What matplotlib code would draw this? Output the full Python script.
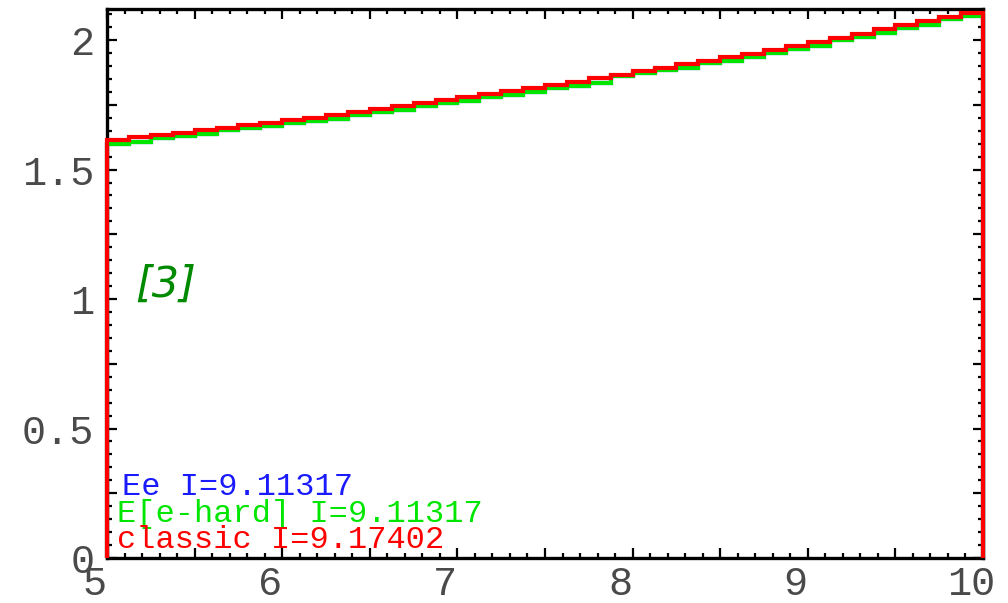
import numpy as np
import matplotlib
matplotlib.use("Agg")
import matplotlib.pyplot as plt
from matplotlib.ticker import MultipleLocator, FuncFormatter
from matplotlib.transforms import ScaledTranslation

# Histogram binning: 40 bins of width 0.125 between 5 and 10
bin_edges = np.linspace(5.0, 10.0, 41)

classic_values = [
    1.614, 1.624, 1.633, 1.643, 1.652, 1.662, 1.672, 1.681, 1.691, 1.700,
    1.710, 1.722, 1.733, 1.745, 1.756, 1.768, 1.780, 1.791, 1.803, 1.814,
    1.826, 1.839, 1.853, 1.866, 1.880, 1.893, 1.906, 1.920, 1.933, 1.947,
    1.961, 1.977, 1.993, 2.009, 2.025, 2.042, 2.058, 2.074, 2.090, 2.106,
]
e_hard_values = [
    1.598, 1.606, 1.623, 1.631, 1.638, 1.652, 1.660, 1.667, 1.681, 1.688,
    1.696, 1.712, 1.721, 1.731, 1.746, 1.756, 1.766, 1.779, 1.789, 1.798,
    1.814, 1.823, 1.833, 1.862, 1.872, 1.883, 1.894, 1.910, 1.921, 1.933,
    1.951, 1.965, 1.979, 1.999, 2.013, 2.028, 2.046, 2.060, 2.080, 2.094,
]
ee_values = [
    1.598, 1.606, 1.623, 1.631, 1.638, 1.652, 1.660, 1.667, 1.681, 1.688,
    1.696, 1.712, 1.721, 1.731, 1.746, 1.756, 1.766, 1.779, 1.789, 1.798,
    1.814, 1.823, 1.833, 1.862, 1.872, 1.883, 1.894, 1.910, 1.921, 1.933,
    1.951, 1.965, 1.979, 1.999, 2.013, 2.028, 2.046, 2.060, 2.080, 2.094,
]

legend_labels = ["Ee I=9.11317", "E[e-hard] I=9.11317", "classic I=9.17402"]
x_tick_labels = ["5", "6", "7", "8", "9", "10"]
y_tick_labels = ["0", "0.5", "1", "1.5", "2"]

BLUE = "#1a1aff"
GREEN = "#00e600"
RED = "#ff0000"
MONO = "Liberation Mono"

fig = plt.figure(figsize=(10.08, 6.03), dpi=100)
ax = fig.add_axes([107 / 1008, 1 - 558 / 603, (983 - 107) / 1008, (558 - 9) / 603])

for vals, col in [(ee_values, BLUE), (e_hard_values, GREEN), (classic_values, RED)]:
    ax.stairs(vals, bin_edges, baseline=0, fill=False, color=col,
              linewidth=3.0, clip_on=False, zorder=3)

ax.set_xlim(5, 10)
ax.set_ylim(0, 2.12)

# Axis ticks: inward on every side, labels only at the round values
ax.xaxis.set_major_locator(MultipleLocator(0.5))
ax.xaxis.set_minor_locator(MultipleLocator(0.1))
ax.yaxis.set_major_locator(MultipleLocator(0.25))
ax.yaxis.set_minor_locator(MultipleLocator(0.05))

x_lab = {float(s): s for s in x_tick_labels}
y_lab = {float(s): s for s in y_tick_labels}
ax.xaxis.set_major_formatter(FuncFormatter(lambda v, p: x_lab.get(round(v, 3), "")))
ax.yaxis.set_major_formatter(FuncFormatter(lambda v, p: y_lab.get(round(v, 3), "")))

ax.tick_params(which="both", direction="in", top=True, right=True,
               width=1.6, color="black")
ax.tick_params(which="major", length=7, labelsize=29, labelcolor="#4a4a4a")
ax.tick_params(axis="y", which="major", pad=9)
ax.tick_params(axis="x", which="major", pad=5)
ax.tick_params(which="minor", length=3.5)
for lab in ax.get_xticklabels() + ax.get_yticklabels():
    lab.set_fontfamily(MONO)

# x tick labels sit a little to the left of their ticks
shift = ScaledTranslation(-12 / 100, 0, fig.dpi_scale_trans)
for lab in ax.get_xticklabels():
    lab.set_transform(lab.get_transform() + shift)

for sp in ax.spines.values():
    sp.set_linewidth(2.4)
    sp.set_color("black")

# Integral annotations in the lower-left corner
legend_pos = [(122, 495, BLUE), (117, 522, GREEN), (117, 548, RED)]
for text, (px, py, col) in zip(legend_labels, legend_pos):
    fig.text(px / 1008, 1 - py / 603, text, color=col, fontsize=23,
             fontfamily=MONO, ha="left", va="baseline")

ax.text(5.16, 1.054, "[3]", color="#008a00", fontsize=31, style="italic",
        fontfamily="DejaVu Sans", ha="left", va="center")

fig.savefig("out.png", dpi=100)
